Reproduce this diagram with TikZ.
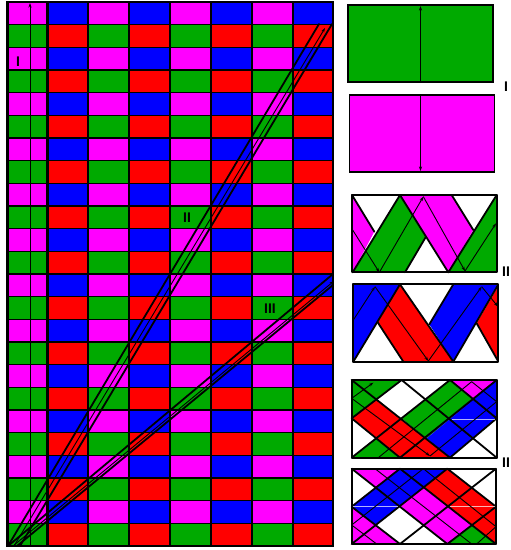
\documentclass[tikz,border=0pt]{standalone}
\usepackage{fontspec}
\setmainfont{Liberation Sans}
\usetikzlibrary{arrows.meta}
\definecolor{colG}{HTML}{00AA00}
\definecolor{colM}{HTML}{FF00FF}
\definecolor{colB}{HTML}{0000FF}
\definecolor{colR}{HTML}{FF0000}
\tikzset{
  gridcell/.style={draw=black,line width=1.1pt},
  heavy/.style={draw=black,line width=1.8pt,line cap=round,line join=round},
  thinl/.style={draw=black,line width=0.9pt},
  tip/.style={-{Stealth[length=4.5pt,width=3pt]}},
  lab/.style={font=\fontsize{14}{14}\selectfont\bfseries,inner sep=0pt},
  panel/.style={xshift=340pt,x=0.33333pt,y=-0.33333pt},
  sheen/.style={draw=white,line width=0.4pt,opacity=0.7}
}
\begin{document}
\begin{tikzpicture}[x=1pt,y=-1pt]
\useasboundingbox (0,0) rectangle (511,550);
\fill[white] (0,0) rectangle (511,550);
% grid
\foreach \r in {0,...,23}{
  \pgfmathsetmacro{\ya}{2+\r*22.667}
  \pgfmathsetmacro{\yb}{2+(\r+1)*22.667}
  \pgfmathtruncatemacro{\odd}{mod(\r,2)}
  \ifnum\odd=0 \def\ca{colM}\def\cc{colB}\else \def\ca{colG}\def\cc{colR}\fi
  \foreach \xa/\xb/\k in {8/48/0,48/88/1,88/129/0,129/170/1,170/211/0,211/252/1,252/293/0,293/333/1}{
    \ifnum\k=0 \def\cf{\ca}\else \def\cf{\cc}\fi
    \filldraw[gridcell,fill=\cf] (\xa,\ya) rectangle (\xb,\yb);
  }
}
\draw[line width=3pt] (7.5,1) -- (7.5,547);
\draw[line width=3pt] (47.5,1) -- (47.5,547);
\draw[thinl,tip] (30,546) -- (30,3);
% bundles
\draw[heavy] (8,546) -- (319,24);
\draw[heavy] (20,546) -- (332,24);
\draw[thinl,tip] (14,546) -- (325,28);
\draw[heavy] (8,546) -- (333,274);
\draw[heavy] (17,546) -- (333,285);
\draw[thinl,tip] (13,546) -- (334,281);
\node[lab] (la) at (18,62) {I};
\node[lab] (lb) at (187,218) {II};
\node[lab] (lc) at (270,309) {III};
% panel I
\filldraw[fill=colG,draw=black,line width=1.8pt] (348,5) rectangle (493,82);
\draw[thinl,tip] (420.5,82) -- (420.5,6);
\filldraw[fill=colM,draw=black,line width=1.8pt] (349.5,95) rectangle (494.5,172);
\draw[thinl,tip] (420.5,95) -- (420.5,171);
\node[lab] (ld) at (506,87) {I};
% panel II a
\begin{scope}[panel,yshift=-185pt]
\fill[colM] (36,30) -- (103,140) -- (38,262) -- (36,262) -- cycle;
\fill[colM] (180,30) -- (335,30) -- (400,135) -- (325,262) -- cycle;
\fill[colG] (38,262) -- (180,30) -- (258,155) -- (195,262) -- cycle;
\fill[colG] (325,262) -- (470,30) -- (470,262) -- cycle;
\draw[heavy] (36,30) -- (103,140);
\draw[heavy] (38,262) -- (180,30) -- (325,262) -- (470,30);
\draw[heavy] (195,262) -- (258,155);
\draw[heavy] (335,30) -- (400,135);
\draw[thinl,tip] (38,135) -- (118,262);
\draw[thinl,tip] (118,262) -- (250,35);
\draw[thinl,tip] (250,35) -- (375,258);
\draw[thinl,tip] (375,258) -- (468,115);
\draw[heavy] (36,30) rectangle (470,262);
\end{scope}
% panel II b
\begin{scope}[panel,yshift=-185pt]
\fill[colB] (40,298) -- (180,298) -- (40,530) -- cycle;
\fill[colR] (180,298) -- (340,530) -- (190,530) -- (113,412) -- cycle;
\fill[colB] (340,298) -- (474,298) -- (340,530) -- (268,418) -- cycle;
\fill[colR] (410,415) -- (474,305) -- (474,525) -- cycle;
\draw[heavy] (40,530) -- (180,298) -- (340,530) -- (474,300);
\draw[heavy] (113,412) -- (190,530);
\draw[heavy] (340,298) -- (268,418);
\draw[heavy] (410,415) -- (474,528);
\draw[thinl,tip] (40,405) -- (105,305);
\draw[thinl,tip] (105,305) -- (265,528);
\draw[thinl,tip] (265,528) -- (425,305);
\draw[thinl,tip] (425,305) -- (474,365);
\draw[heavy] (40,298) rectangle (474,530);
\end{scope}
\node[lab] (le) at (506,272) {II};
% panel III a
\begin{scope}[panel,yshift=-370pt]
\fill[colG] (35,30) -- (185,30) -- (110,88) -- (35,145) -- cycle;
\fill[colG] (35,263) -- (110,205) -- (180,263) -- cycle;
\fill[colG] (330,30) -- (400,88) -- (260,205) -- (185,145) -- cycle;
\fill[colR] (35,145) -- (110,88) -- (330,263) -- (180,263) -- cycle;
\fill[colB] (400,88) -- (470,30) -- (470,145) -- (330,263) -- (260,205) -- cycle;
\fill[colM] (330,30) -- (470,30) -- (400,88) -- cycle;
\draw[heavy] (35,145) -- (180,263);
\draw[heavy] (35,30) -- (330,263);
\draw[heavy] (185,30) -- (470,263);
\draw[heavy] (330,30) -- (470,145);
\draw[heavy] (35,145) -- (185,30);
\draw[heavy] (35,263) -- (330,30);
\draw[heavy] (180,263) -- (470,30);
\draw[heavy] (330,263) -- (470,145);
\draw[sheen] (335,147) -- (465,147);
\draw[thinl,tip] (35,85) -- (100,38);
\draw[thinl,tip] (35,85) -- (270,258);
\draw[thinl] (270,258) -- (470,95);
\draw[thinl] (115,263) -- (395,35);
\draw[thinl] (395,35) -- (470,95);
\draw[heavy] (35,30) rectangle (470,263);
\end{scope}
% panel III b
\begin{scope}[panel,yshift=-370pt]
\fill[colM] (35,296) -- (180,296) -- (108,353) -- cycle;
\fill[colB] (35,410) -- (180,296) -- (322,296) -- (108,466) -- cycle;
\fill[colR] (250,353) -- (322,296) -- (468,410) -- (468,522) -- cycle;
\fill[colM] (180,410) -- (250,353) -- (395,466) -- (322,522) -- (250,466) -- cycle;
\fill[colM] (35,410) -- (108,466) -- (180,522) -- (35,522) -- cycle;
\fill[colG] (322,522) -- (395,466) -- (468,522) -- cycle;
\draw[heavy] (35,296) -- (322,522);
\draw[heavy] (180,296) -- (468,522);
\draw[heavy] (322,296) -- (468,410);
\draw[heavy] (35,410) -- (180,522);
\draw[heavy] (35,410) -- (180,296);
\draw[heavy] (35,522) -- (322,296);
\draw[heavy] (180,522) -- (468,296);
\draw[heavy] (322,522) -- (468,410);
\draw[sheen] (40,410) -- (175,410);
\draw[sheen] (330,410) -- (465,410);
\draw[thinl] (105,296) -- (395,522);
\draw[thinl] (35,465) -- (250,296);
\draw[thinl] (250,296) -- (468,470);
\draw[thinl] (35,465) -- (110,522);
\draw[thinl] (468,470) -- (410,522);
\draw[heavy] (35,296) rectangle (468,522);
\end{scope}
\node[lab] (lf) at (506,463) {II};
\end{tikzpicture}
\end{document}
